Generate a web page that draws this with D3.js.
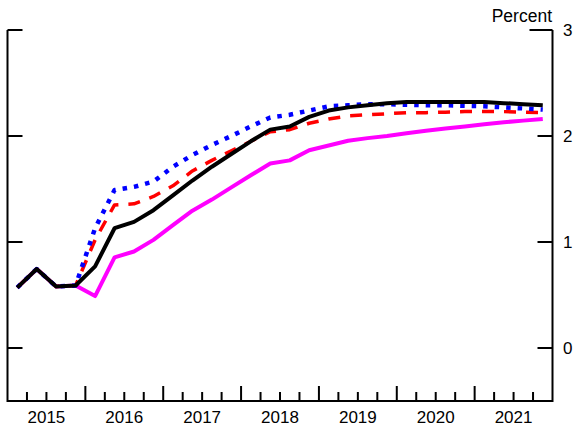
<!DOCTYPE html>
<html>
<head>
<meta charset="utf-8">
<script src="https://cdn.jsdelivr.net/npm/d3@7"></script>
<style>
  html, body { margin: 0; padding: 0; background: #fff; }
  svg { display: block; }
  text { font-family: "Liberation Sans", Arial, sans-serif; fill: #000; }
</style>
</head>
<body>
<svg id="chart" width="577" height="425"></svg>
<script>
// ---- data (quarterly, 2015Q1 - 2021Q4) ----
const quarters = [
  "2015Q1","2015Q2","2015Q3","2015Q4","2016Q1","2016Q2","2016Q3","2016Q4",
  "2017Q1","2017Q2","2017Q3","2017Q4","2018Q1","2018Q2","2018Q3","2018Q4",
  "2019Q1","2019Q2","2019Q3","2019Q4","2020Q1","2020Q2","2020Q3","2020Q4",
  "2021Q1","2021Q2","2021Q3","2021Q4"
];
const blackSeries = [0.57,0.745,0.58,0.59,0.77,1.13,1.19,1.30,1.44,1.58,1.71,1.83,1.95,2.06,2.09,2.18,2.24,2.27,2.29,2.31,2.32,2.32,2.32,2.32,2.32,2.31,2.30,2.29];
const redSeries   = [0.57,0.745,0.58,0.59,1.02,1.35,1.36,1.43,1.53,1.67,1.77,1.86,1.95,2.04,2.06,2.12,2.16,2.19,2.20,2.21,2.22,2.22,2.225,2.23,2.23,2.23,2.225,2.22];
const blueSeries  = [0.57,0.745,0.58,0.59,1.13,1.49,1.52,1.57,1.71,1.82,1.915,2.00,2.09,2.175,2.20,2.24,2.28,2.29,2.30,2.30,2.295,2.29,2.29,2.285,2.28,2.27,2.26,2.25];
const magentaSeries = [0.57,0.745,0.58,0.59,0.49,0.855,0.91,1.02,1.16,1.295,1.40,1.515,1.63,1.74,1.77,1.865,1.91,1.955,1.98,2.00,2.025,2.05,2.07,2.09,2.11,2.13,2.145,2.16];
const yearLabels = ["2015","2016","2017","2018","2019","2020","2021"];
const yTicks = [0, 1, 2, 3];
const unitLabel = "Percent";

// ---- layout ----
const svg = d3.select("#chart");
const pL = 7.5, pR = 552.5, pT = 30, pB = 401;

const x = d3.scaleLinear().domain([2015, 2022]).range([pL, pR]);
const y = d3.scaleLinear().domain([-0.5, 3]).range([pB, pT]);

const qPos = q => {
  const yr = +q.slice(0, 4), qq = +q.slice(5);
  return yr + (qq - 0.5) / 4;
};

// axes frame
const axisG = svg.append("g").attr("stroke", "#000").attr("stroke-width", 2).attr("fill", "none");
axisG.append("path").attr("d", `M${pL},${pT} V${pB} H${pR} V${pT}`);

// y ticks (both sides, inward)
yTicks.forEach(v => {
  const lenR = v === 3 ? 23 : 15;
  axisG.append("line").attr("x1", pL).attr("x2", pL + 15).attr("y1", y(v)).attr("y2", y(v));
  axisG.append("line").attr("x1", pR).attr("x2", pR - lenR).attr("y1", y(v)).attr("y2", y(v));
  svg.append("text").attr("x", pR + 10.5).attr("y", y(v)).attr("dy", "0.36em")
    .attr("font-size", 17).text(String(v));
});

// x ticks: quarterly, taller at year boundaries
const qTicks = d3.range(1, 28).map(i => 2015 + i / 4);
qTicks.forEach(t => {
  const major = Math.abs(t - Math.round(t)) < 1e-6;
  axisG.append("line").attr("x1", x(t)).attr("x2", x(t))
    .attr("y1", pB).attr("y2", pB - (major ? 15 : 9));
});
yearLabels.forEach(lbl => {
  svg.append("text").attr("x", x(+lbl + 0.5)).attr("y", 422.5)
    .attr("text-anchor", "middle").attr("font-size", 17).text(lbl);
});

// unit label
svg.append("text").attr("x", pR - 0.5).attr("y", 21.5).attr("text-anchor", "end")
  .attr("font-size", 17.5).text(unitLabel);

// lines
const line = d3.line().x((d, i) => x(qPos(quarters[i]))).y(d => y(d));
const series = [
  { data: magentaSeries, color: "#ff00ff", width: 4, dash: null },
  { data: redSeries, color: "#ff0000", width: 3.5, dash: "12,10" },
  { data: blueSeries, color: "#0000ff", width: 4.5, dash: "4.5,7" },
  { data: blackSeries, color: "#000000", width: 4, dash: null }
];
series.forEach(s => {
  svg.append("path").datum(s.data).attr("d", line)
    .attr("fill", "none").attr("stroke", s.color).attr("stroke-width", s.width)
    .attr("stroke-linejoin", "round")
    .attr("stroke-dasharray", s.dash);
});
</script>
</body>
</html>
